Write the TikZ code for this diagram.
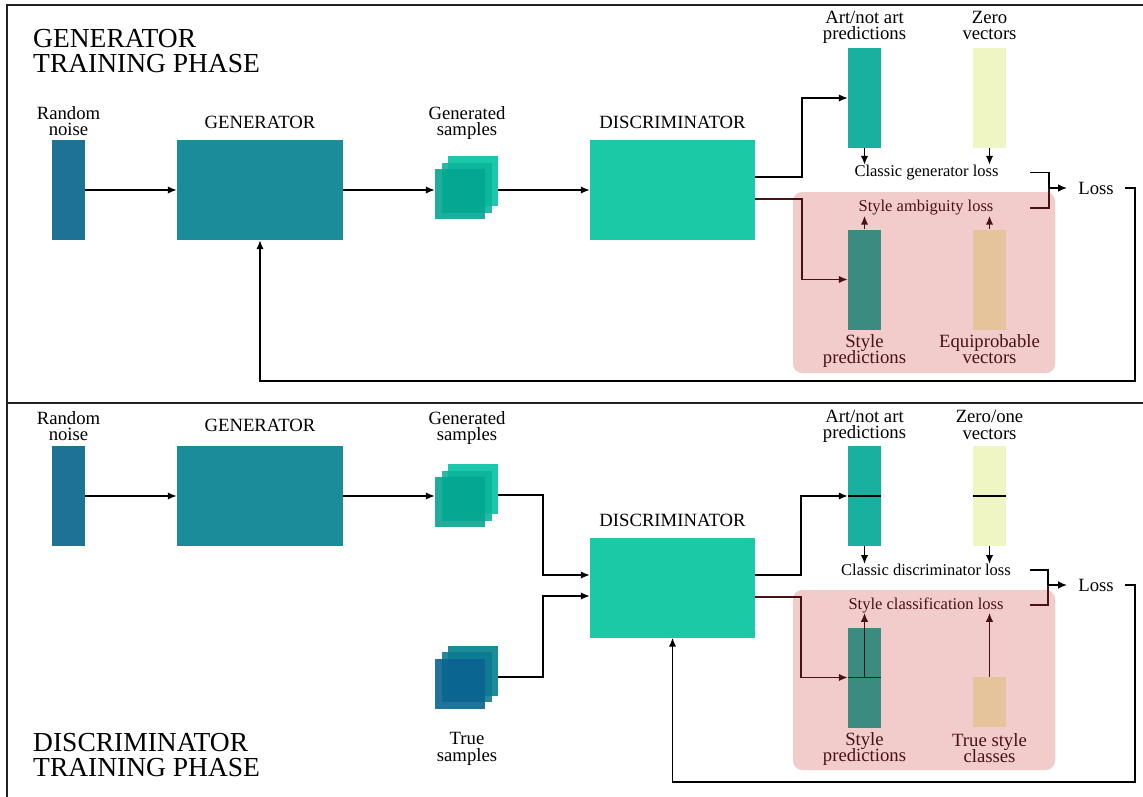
\documentclass[tikz,border=0pt]{standalone}
\usepackage{fontspec}
\setmainfont{Liberation Serif}
\usetikzlibrary{arrows.meta,calc}
\definecolor{cnoise}{HTML}{1E7296}
\definecolor{cgen}{HTML}{1B8C99}
\definecolor{cdisc}{HTML}{1CC9A7}
\definecolor{cart}{HTML}{1AB09F}
\definecolor{czero}{HTML}{F0F5C4}
\definecolor{csty}{HTML}{3B8B80}
\definecolor{ceq}{HTML}{E5C49B}
\definecolor{cpink}{HTML}{F2CBCB}
\definecolor{dred}{HTML}{4A1115}
\definecolor{cgb}{HTML}{1CC8AA}
\definecolor{cgm}{HTML}{0DB39C}
\definecolor{cgf}{HTML}{04A690}
\definecolor{ctb}{HTML}{1B8C99}
\definecolor{ctm}{HTML}{0E7A92}
\definecolor{ctf}{HTML}{0A6490}
\definecolor{cframe}{HTML}{222222}
\begin{document}
\lineskiplimit=-30pt
\begin{tikzpicture}[x=1pt,y=-1pt,
  bar/.style={rectangle, inner sep=0pt, minimum width=33pt, minimum height=100pt, draw=none},
  bigbox/.style={rectangle, inner sep=0pt, minimum width=166pt, minimum height=100pt, draw=none},
  sq/.style={rectangle, inner sep=0pt, minimum width=50pt, minimum height=50pt, draw=none},
  zone/.style={rectangle, rounded corners=9pt, inner sep=0pt, minimum width=262pt, fill=cpink, draw=none},
  lbl/.style={font=\fontsize{18.7}{16.5}\selectfont, align=center, inner sep=0pt},
  small/.style={font=\fontsize{16.5}{16.5}\selectfont, inner sep=0pt},
  title/.style={font=\fontsize{27.5}{25}\selectfont, align=left, inner sep=0pt, anchor=north west},
  line/.style={line width=1.6pt},
  arr/.style={line width=1.6pt, -{Latex[length=9pt,width=7.5pt]}},
  frame/.style={line width=1.4pt, draw=cframe}
]
\useasboundingbox (0,0) rectangle (1143,797);
% frame
\draw[frame] (1143,5) -- (7,5) -- (7,797);
\draw[frame] (7,403) -- (1143,403);

% ================= TOP PANEL =================
\node[title] (t1) at (33,29) {GENERATOR\\TRAINING PHASE};
\node[zone, minimum height=181pt] (zone1) at (924,282.5) {};

\node[bar, fill=cnoise] (noise1) at (68.5,190) {};
\node[bigbox, fill=cgen] (gen1) at (260,190) {};
\node[sq, fill=cgb] (s1b) at (473,181) {};
\node[sq, fill=cgm, fill opacity=0.9] (s1m) at (467,188) {};
\node[sq, fill=cgf, fill opacity=0.9] (s1f) at (460,194) {};
\node[bigbox, minimum width=165pt, fill=cdisc] (disc1) at (672.5,190) {};
\node[bar, fill=cart] (art1) at (864.5,98) {};
\node[bar, fill=czero] (zero1) at (989.5,98) {};
\node[bar, fill=csty] (sty1) at (864.5,279.5) {};
\node[bar, fill=ceq] (eq1) at (989.5,279.5) {};

\node[lbl] (lnoise1) at (68.5,121) {Random\\noise};
\node[lbl] (lgen1) at (260,122) {GENERATOR};
\node[lbl] (lsamp1) at (467,123) {Generated\\samples};
\node[lbl] (ldisc1) at (672.5,122) {DISCRIMINATOR};
\node[lbl] (lart1) at (864.5,27.5) {Art/not art\\predictions};
\node[lbl] (lzero1) at (989.5,25.5) {Zero\\vectors};
\node[small] (cgl1) at (926.5,172.5) {Classic generator loss};
\node[small, text=dred] (sal1) at (926,208) {Style ambiguity loss};
\node[lbl, text=dred] (lsty1) at (864.5,351) {Style\\predictions};
\node[lbl, text=dred] (leq1) at (989.5,349) {Equiprobable\\vectors};
\node[lbl] (loss1) at (1096,188) {Loss};

\coordinate (b1) at (1049,188);
\coordinate (fb1) at (1135,381);

\draw[arr] (noise1.east) -- (gen1.west);
\draw[arr] (gen1.east) -- (gen1.east -| s1f.west);
\draw[arr] (s1b.east |- disc1.west) -- (disc1.west);
\draw[arr] ([yshift=13pt]disc1.east) -- ++(47,0) |- (art1.west);
\draw[arr, dred] ([yshift=-9pt]disc1.east) -- ++(47,0) |- (sty1.west);
\draw[arr] (art1.south) -- (art1.south |- cgl1.north);
\draw[arr] (zero1.south) -- (zero1.south |- cgl1.north);
\draw[arr, dred] (sty1.north) -- (sty1.north |- sal1.south);
\draw[arr, dred] (eq1.north) -- (eq1.north |- sal1.south);
\draw[line] ([xshift=-19pt]b1 |- cgl1) -| (b1);
\draw[line, dred] ([xshift=-19pt]b1 |- sal1) -| (b1);
\draw[arr] (b1) -- ([xshift=-11pt]loss1.west);
\draw[arr] ([xshift=11pt]loss1.east) -| (fb1) -| (gen1.south);

% ================= BOTTOM PANEL =================
\node[title] (t2) at (33,733) {DISCRIMINATOR\\TRAINING PHASE};
\node[zone, minimum height=180pt] (zone2) at (924,680) {};

\node[bar, fill=cnoise] (noise2) at (68.5,496) {};
\node[bigbox, fill=cgen] (gen2) at (260,496) {};
\node[sq, fill=cgb] (s2b) at (473,488.5) {};
\node[sq, fill=cgm, fill opacity=0.9] (s2m) at (467,495.5) {};
\node[sq, fill=cgf, fill opacity=0.9] (s2f) at (460,502) {};
\node[sq, fill=ctb] (r2b) at (473,670.5) {};
\node[sq, fill=ctm, fill opacity=0.9] (r2m) at (467,677) {};
\node[sq, fill=ctf, fill opacity=0.9] (r2f) at (460,683.5) {};
\node[bigbox, minimum width=165pt, fill=cdisc] (disc2) at (672.5,587.5) {};
\node[bar, fill=cart] (art2) at (864.5,496) {};
\node[bar, fill=czero] (zero2) at (989.5,496) {};
\node[bar, fill=csty] (sty2) at (864.5,677.5) {};
\node[bar, minimum height=50pt, fill=ceq] (tsc2) at (989.5,702) {};

\node[lbl] (lnoise2) at (68.5,426) {Random\\noise};
\node[lbl] (lgen2) at (260,425) {GENERATOR};
\node[lbl] (lsamp2) at (467,428) {Generated\\samples};
\node[lbl] (ldisc2) at (672.5,520) {DISCRIMINATOR};
\node[lbl] (ltrue2) at (467,749) {True\\samples};
\node[lbl] (lart2) at (864.5,426.5) {Art/not art\\predictions};
\node[lbl] (lzero2) at (989.5,425) {Zero/one\\vectors};
\node[small] (cdl2) at (926,570) {Classic discriminator loss};
\node[small, text=dred] (scl2) at (926,605) {Style classification loss};
\node[lbl, text=dred] (lsty2) at (864.5,749) {Style\\predictions};
\node[lbl, text=dred] (ltsc2) at (989.5,748) {True style\\classes};
\node[lbl] (loss2) at (1096,585) {Loss};

\coordinate (b2) at (1048,585);
\coordinate (fb2) at (1135,782);

\draw[arr] (noise2.east) -- (gen2.west);
\draw[arr] (gen2.east) -- (gen2.east -| s2f.west);
\draw[arr] ([yshift=-6.5pt]s2b.east) -- ++(45,0) |- ([yshift=12.5pt]disc2.west);
\draw[arr] ([yshift=-6.5pt]r2b.east) -- ++(45,0) |- ([yshift=-8.5pt]disc2.west);
\draw[arr] ([yshift=12.5pt]disc2.east) -- ++(46,0) |- (art2.west);
\draw[line] (art2.west) -- (art2.east);
\draw[line] (zero2.west) -- (zero2.east);
\draw[arr, dred] ([yshift=-9.5pt]disc2.east) -- ++(46,0) |- (sty2.west);
\draw[line, dred] (sty2.west) -- (sty2.east);
\draw[arr, dred] (sty2.center) -- (sty2.center |- scl2.south);
\draw[arr, dred] (tsc2.north) -- (tsc2.north |- scl2.south);
\draw[arr] (art2.south) -- (art2.south |- cdl2.north);
\draw[arr] (zero2.south) -- (zero2.south |- cdl2.north);
\draw[line] ([xshift=-18pt]b2 |- cdl2) -| (b2);
\draw[line, dred] ([xshift=-18pt]b2 |- scl2) -| (b2);
\draw[arr] (b2) -- ([xshift=-11pt]loss2.west);
\draw[arr] ([xshift=11pt]loss2.east) -| (fb2) -| (disc2.south);
\end{tikzpicture}
\end{document}
